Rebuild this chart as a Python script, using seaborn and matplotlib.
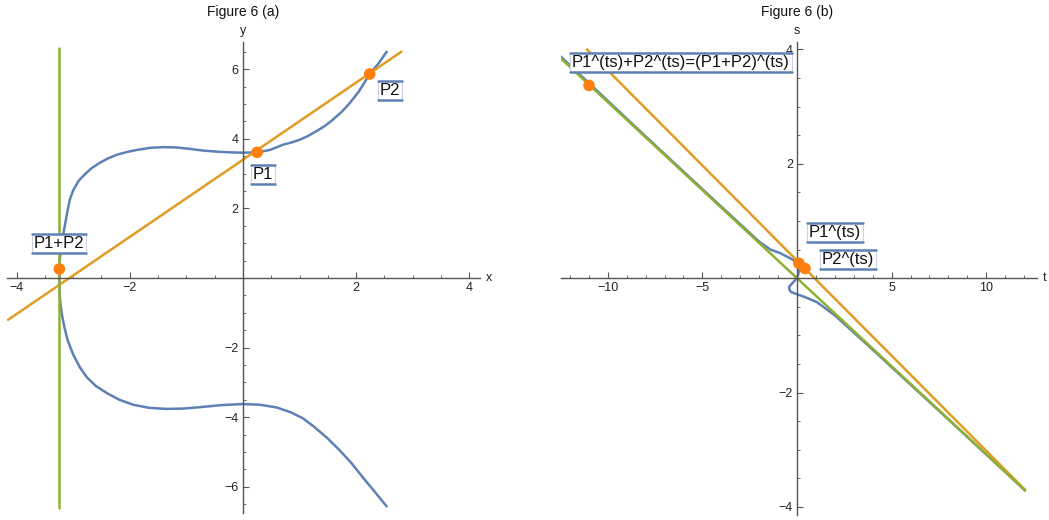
import numpy as np
import pandas as pd
import seaborn as sns
import matplotlib.pyplot as plt
from matplotlib.lines import Line2D
from matplotlib.ticker import MultipleLocator, FixedLocator

# ---- data ----
# Figure 6 (a): the curve, upper and lower branch
upper_x = [-3.245, -3.243, -3.237, -3.225, -3.205, -3.18, -3.15, -3.11, -3.06, -3.0,
           -2.9, -2.8, -2.68, -2.53, -2.38, -2.23, -2.05, -1.87, -1.64, -1.41, -1.17,
           -0.94, -0.7, -0.46, -0.23, 0.0, 0.25, 0.48, 0.71, 0.85, 1.0, 1.15, 1.3,
           1.45, 1.59, 1.75, 1.89, 2.05, 2.24, 2.4, 2.54]
upper_y = [0.0, 0.25, 0.5, 0.75, 1.0, 1.22, 1.48, 1.85, 2.25, 2.52,
           2.8, 2.97, 3.15, 3.31, 3.44, 3.54, 3.62, 3.68, 3.74, 3.76, 3.75,
           3.71, 3.66, 3.63, 3.61, 3.6, 3.61, 3.68, 3.83, 3.89, 3.97, 4.08, 4.22,
           4.37, 4.55, 4.78, 5.03, 5.36, 5.86, 6.17, 6.5]
lower_x = [-3.245, -3.243, -3.237, -3.225, -3.205, -3.18, -3.15, -3.1, -3.0,
           -2.88, -2.76, -2.6, -2.4, -2.18, -1.94, -1.65, -1.35, -1.05, -0.76,
           -0.38, 0.0, 0.3, 0.6, 0.85, 1.06, 1.24, 1.48, 1.71, 1.92, 2.12, 2.33, 2.54]
lower_y = [0.0, -0.25, -0.5, -0.75, -1.0, -1.21, -1.45, -1.78, -2.2,
           -2.57, -2.85, -3.1, -3.31, -3.5, -3.64, -3.73, -3.76, -3.75, -3.71,
           -3.65, -3.62, -3.64, -3.72, -3.86, -4.03, -4.25, -4.58, -4.95, -5.32,
           -5.73, -6.14, -6.56]
chord_x = [-4.15, 2.8]
chord_y = [-1.2, 6.5]
vert_x = [-3.245, -3.245]
vert_y = [-6.6, 6.6]
pts_a_x = [0.25, 2.24, -3.245]
pts_a_y = [3.61, 5.86, 0.26]
labels_a = ["P1", "P2", "P1+P2"]
label_a_pos = [(0.35, 2.96), (2.6, 5.38), (-3.25, 0.98)]

# Figure 6 (b): image of the curve under (ts)
curve_t = [-12.5, -8.0, -4.0, -2.0, -1.4, -0.9, -0.37, -0.1, 0.1, 0.12, 0.05, 0.0,
           -0.2, -0.42, -0.4, -0.32, 0.0, 0.42, 1.06, 2.0, 4.0, 8.0, 12.05]
curve_s = [3.88, 2.48, 1.25, 0.64, 0.5, 0.44, 0.35, 0.3, 0.26, 0.15, 0.05, 0.0,
           -0.07, -0.15, -0.2, -0.24, -0.28, -0.33, -0.42, -0.65, -1.25, -2.47, -3.71]
line1_t = [-11.1, 12.05]
line1_s = [4.0, -3.7]
line2_t = [-12.6, 12.05]
line2_s = [3.88, -3.71]
pts_b_t = [0.1, 0.42, -10.99]
pts_b_s = [0.26, 0.17, 3.37]
labels_b = ["P1^(ts)", "P2^(ts)", "P1^(ts)+P2^(ts)=(P1+P2)^(ts)"]
label_b_pos = [(2.0, 0.80), (2.7, 0.33), (-6.13, 3.78)]

blue = "#5E81B5"
orange = "#E19C24"
green = "#8FB032"
dot = "#FF7F0E"
axcol = "#555555"

sns.set_style("white")
plt.rcParams['font.family'] = ['Liberation Sans', 'DejaVu Sans']

W, H = 1049, 520
fig = plt.figure(figsize=(W / 100, H / 100), dpi=100)

def px_axes(x0, x1, ytop, ybot):
    return fig.add_axes([x0 / W, (H - ybot) / H, (x1 - x0) / W, (ybot - ytop) / H])

ax1 = px_axes(7, 480, 42, 513)
ax2 = px_axes(561, 1037, 42, 515)

def path(ax, x, y, color):
    sns.lineplot(x=x, y=y, sort=False, estimator=None, color=color, lw=1.8, ax=ax)

# panel a
path(ax1, upper_x, upper_y, blue)
path(ax1, lower_x, lower_y, blue)
path(ax1, chord_x, chord_y, orange)
path(ax1, vert_x, vert_y, green)
sns.scatterplot(x=pts_a_x, y=pts_a_y, color=dot, s=70, edgecolor="none", zorder=4, ax=ax1)
ax1.set_xlim(-4.17, 4.19)
ax1.set_ylim(-6.75, 6.78)

# panel b
path(ax2, curve_t, curve_s, blue)
path(ax2, line1_t, line1_s, orange)
path(ax2, line2_t, line2_s, green)
sns.scatterplot(x=pts_b_t, y=pts_b_s, color=dot, s=70, edgecolor="none", zorder=4, ax=ax2)
ax2.set_xlim(-12.47, 12.68)
ax2.set_ylim(-4.14, 4.13)


def math_axes(ax, xmaj, xmin, ymaj, ymin, xl, yl, title):
    for sp in ["top", "right"]:
        ax.spines[sp].set_visible(False)
    for sp in ["left", "bottom"]:
        ax.spines[sp].set_position(("data", 0))
        ax.spines[sp].set_color(axcol)
        ax.spines[sp].set_linewidth(1.0)
    ax.xaxis.set_major_locator(FixedLocator(xmaj))
    ax.yaxis.set_major_locator(FixedLocator(ymaj))
    ax.xaxis.set_minor_locator(MultipleLocator(xmin))
    ax.yaxis.set_minor_locator(MultipleLocator(ymin))
    ax.set_xticklabels([f"{v:g}".replace("-", "\u2212") for v in xmaj])
    ax.set_yticklabels([f"{v:g}".replace("-", "\u2212") for v in ymaj])
    ax.tick_params(which="major", direction="in", length=4, width=0.8, color=axcol,
                   labelsize=9, labelcolor="#222222", pad=3)
    ax.tick_params(which="minor", direction="in", length=2.5, width=0.6, color=axcol)
    ax.tick_params(axis="x", which="both", bottom=True, top=False)
    ax.tick_params(axis="y", which="both", left=True, right=False)
    ax.set_xlabel("")
    ax.set_ylabel("")
    ax.patch.set_alpha(0)
    xr = ax.get_xlim()
    yr = ax.get_ylim()
    ax.text(xr[1] + (xr[1] - xr[0]) * 0.012, 0, xl, ha="left", va="center", fontsize=9,
            color="#222222", clip_on=False)
    ax.text(0, yr[1] + (yr[1] - yr[0]) * 0.01, yl, ha="center", va="bottom", fontsize=9,
            color="#222222", clip_on=False)
    ax.text(0, yr[1] + (yr[1] - yr[0]) * 0.048, title, ha="center", va="bottom",
            fontsize=10, color="#111111", clip_on=False)


math_axes(ax1, [-4, -2, 2, 4], 0.5, [-6, -4, -2, 2, 4, 6], 0.5, "x", "y", "Figure 6 (a)")
math_axes(ax2, [-10, -5, 5, 10], 1, [-4, -2, 2, 4], 0.5, "t", "s", "Figure 6 (b)")

# framed labels with a blue rule above and below
texts = []
for ax, labs, pos in [(ax1, labels_a, label_a_pos), (ax2, labels_b, label_b_pos)]:
    for lab, (lx, ly) in zip(labs, pos):
        t = ax.text(lx, ly, lab, ha="center", va="center", fontsize=12, color="#111111",
                    zorder=6, clip_on=False,
                    bbox=dict(boxstyle="square,pad=0.12", fc="white", ec="#c9d4e6", lw=0.8))
        texts.append(t)

fig.canvas.draw()
for t in texts:
    bb = t.get_bbox_patch().get_window_extent()
    for yy in (bb.y0, bb.y1):
        fig.add_artist(Line2D([bb.x0, bb.x1], [yy, yy], transform=None, color=blue,
                              lw=1.8, zorder=7))

fig.savefig("out.png", dpi=100)
